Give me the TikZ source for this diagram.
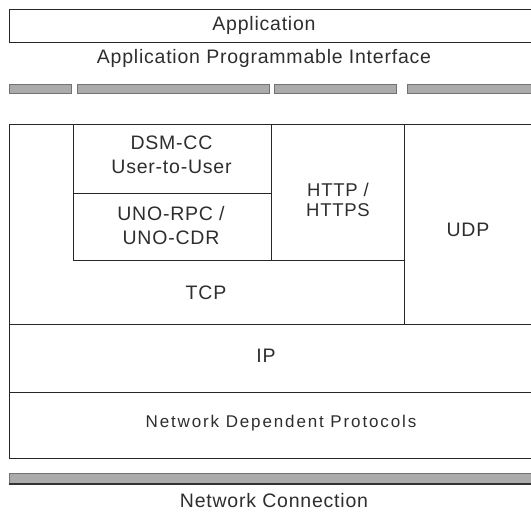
\documentclass[tikz,border=0pt]{standalone}
\usepackage{fontspec}
\setmainfont{Liberation Sans}
\newfontfamily\lbf[LetterSpace=4]{Liberation Sans}
\newfontfamily\ndpf[LetterSpace=11]{Liberation Sans}
\tikzset{
  box/.style={draw=black!85, line width=0.9pt, inner sep=0pt, anchor=north west},
  bar/.style={fill=gray!66, draw=black!55, line width=0.6pt, inner sep=0pt, anchor=north west, minimum height=9pt},
  lbl/.style={text=black!82, inner sep=0pt, anchor=base, font={\lbf\fontsize{19.5}{24.5}\selectfont}},
  mlbl/.style={text=black!82, inner sep=0pt, anchor=north, align=center},
}
\begin{document}
\begin{tikzpicture}[x=1pt, y=-1pt]
\useasboundingbox (0,0) rectangle (531,515);
\clip (0,0) rectangle (531,515);
\fill[white] (0,0) rectangle (531,515);

% Application layer
\node[box, minimum width=560pt, minimum height=33.5pt] (app) at (8.5,8.5) {};
\node[lbl] (applbl) at (264,30) {Application};
\node[lbl] (api) at (264,63) {Application Programmable Interface};

% API bars
\node[bar, minimum width=62pt] (b1) at (8.5,84) {};
\node[bar, minimum width=192pt] (b2) at (77,84) {};
\node[bar, minimum width=122pt] (b3) at (274,84) {};
\node[bar, minimum width=160pt] (b4) at (407,84) {};

% Protocol stack
\node[box, minimum width=395.5pt, minimum height=200pt] (tcp) at (8.5,124) {};
\node[box, minimum width=160pt, minimum height=200pt] (udp) at (404,124) {};
\node[box, minimum width=198pt, minimum height=69pt] (dsm) at (73,124) {};
\node[box, minimum width=198pt, minimum height=67pt] (uno) at (73,193) {};
\node[box, minimum width=133pt, minimum height=136pt] (http) at (271,124) {};
\node[box, minimum width=560pt, minimum height=67.5pt] (ip) at (8.5,324) {};
\node[box, minimum width=560pt, minimum height=66pt] (ndp) at (8.5,391.5) {};

\node[mlbl, font={\lbf\fontsize{19.5}{23.5}\selectfont}] (dsmlbl) at (171.5,136) {DSM-CC\\User-to-User};
\node[mlbl, font={\lbf\fontsize{19.5}{24.5}\selectfont}] (unolbl) at (171,206) {UNO-RPC /\\UNO-CDR};
\node[mlbl, font={\lbf\fontsize{18.5}{20}\selectfont}] (httplbl) at (338,183) {HTTP /\\HTTPS};
\node[lbl] (udplbl) at (468,236) {UDP};
\node[lbl] (tcplbl) at (206,299) {TCP};
\node[lbl] (iplbl) at (266,362) {IP};
\node[lbl, font={\ndpf\fontsize{17}{20}\selectfont}] (ndplbl) at (281,427) {Network Dependent Protocols};

% Network connection bar
\node[bar, minimum width=560pt, minimum height=11pt] (net) at (8.5,472.5) {};
\draw[black!80, line width=1.6pt] (net.south west) -- (net.south east);
\node[lbl] (netlbl) at (274,507) {Network Connection};
\end{tikzpicture}
\end{document}
